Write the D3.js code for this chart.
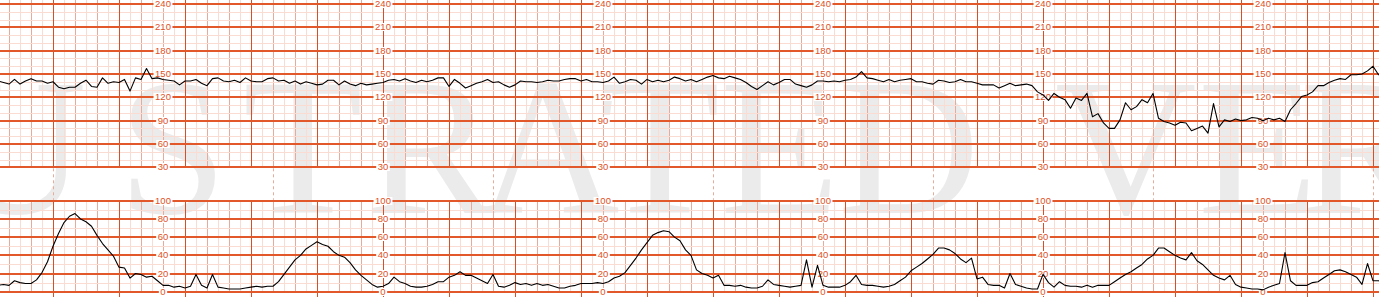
<!DOCTYPE html>
<html>
<head>
<meta charset="utf-8">
<script src="https://cdn.jsdelivr.net/npm/d3@7"></script>
<style>
  body { margin: 0; background: #fff; overflow: hidden; }
  svg { display: block; }
</style>
</head>
<body>
<div id="viz"></div>
<script>
// tick labels
const fhrTicks = [240, 210, 180, 150, 120, 90, 60, 30];
const uaTicks = [100, 80, 60, 40, 20, 0];
const labelSeconds = [160, 360, 560, 760, 960, 1160]; // label columns
const gapMarkSeconds = [60, 260, 460, 660, 860, 1060, 1260]; // dashed marks between panels
const watermark = 'ILLUSTRATED VERSION';

// traces, one value every 5 s starting at t = 10 s
const startSec = 10, stepSec = 5;
const fhrValues = [
  141,139,137,143,137,141,144,141,141,138,
  140,133,131,133,133,138,142,134,133,145,
  138,140,139,143,128,145,143,157,144,145,
  143,142,141,136,141,141,143,138,135,144,
  145,141,140,142,139,145,141,140,140,144,
  145,141,142,138,141,137,140,138,136,137,
  142,142,136,141,137,135,138,136,137,138,
  139,142,143,141,144,141,139,142,140,142,
  145,145,134,143,138,
  132,135,138,140,143,139,140,136,133,136,
  141,140,140,139,140,142,141,141,143,144,
  144,141,143,140,140,139,141,146,138,140,
  143,142,137,143,140,142,140,142,146,144,
  141,143,140,143,146,148,145,144,147,145,
  143,139,134,130,135,140,136,139,143,143,
  137,135,133,136,141,141,140,141,140,142,
  143,146,153,145,144,142,140,143,140,142,
  143,144,140,140,138,137,142,141,139,140,
  143,140,140,138,136,136,136,132,135,138,
  135,
  136,137,135,127,123,116,125,120,117,106,
  119,116,125,95,99,87,80,80,91,113,
  104,108,117,113,125,93,89,87,84,88,
  87,77,80,83,74,112,82,91,89,92,
  90,91,94,93,90,93,91,93,89,104,
  112,121,123,127,135,135,139,142,144,143,
  149,149,150,154,160,149,151
];
const uaValues = [
  7,8,7,12,10,9,9,13,21,33,
  50,64,76,83,86,80,77,72,62,53,
  46,39,27,26,15,20,19,16,17,12,
  7,7,5,6,4,6,19,7,4,19,
  5,4,3,3,3,4,5,6,5,6,
  6,11,19,27,35,40,47,51,55,52,
  50,44,40,38,32,24,18,13,8,5,
  6,9,16,11,9,6,5,5,6,8,
  11,11,16,18,22,
  18,18,15,12,9,19,6,5,7,10,
  8,9,7,9,7,8,6,4,4,6,
  7,9,9,9,10,9,11,15,17,21,
  29,37,46,54,62,65,67,66,60,56,
  46,40,24,20,18,15,18,7,7,6,
  7,5,4,4,6,13,8,7,6,5,
  6,7,35,5,29,7,5,5,5,7,
  11,18,8,7,7,6,5,6,8,12,
  16,23,27,31,36,41,48,48,46,42,
  36,32,37,14,16,8,7,7,4,20,
  8,6,4,3,3,19,10,5,11,7,
  6,6,5,7,5,7,7,7,11,15,
  19,22,26,30,36,40,48,48,44,40,
  37,35,43,34,30,24,18,15,13,18,
  8,5,4,3,3,2,5,7,9,43,
  12,7,7,7,10,11,15,19,23,24,
  22,19,16,8,31,12,12,11
];

const width = 1379, height = 297;
const colMinor = '#fbdcd3', colMedium = '#e8aa9a', colMajorV = '#d4502a',
  colMajorH = '#e2582a', colLabel = '#e0501e';

// scales: 66 px per minute, time 0 just left of the page
const x = d3.scaleLinear().domain([0, 60]).range([-13, 53]);
const yFhr = d3.scaleLinear().domain([30, 240]).range([167.3, 4]);
const yUa = d3.scaleLinear().domain([0, 100]).range([291.7, 200.8]);
const tMax = x.invert(width + 2);

const svg = d3.select('#viz').append('svg')
  .attr('width', width)
  .attr('height', height);

// watermark, glyphs placed one by one across the strip
const glyphX = [-370, -300, -180, -55, 118, 243, 365, 478, 600, 720, 838, 985,
  1055, 1198, 1300, 1430, 1530, 1580, 1720];
svg.append('text')
  .attr('x', glyphX.join(' '))
  .attr('y', 213)
  .attr('font-family', '"Liberation Serif", "DejaVu Serif", serif')
  .attr('font-size', 196)
  .attr('fill', '#ebebeb')
  .text(watermark);

const crisp = v => Math.round(v) + 0.5;
const gridTimes = d3.range(0, tMax, 10);
const panels = [
  { y: yFhr, lines: d3.range(30, 241, 10), major: v => v % 30 === 0, top: 0, bottom: yFhr(30) },
  { y: yUa, lines: d3.range(0, 101, 10), major: v => v % 20 === 0, top: yUa(100), bottom: yUa(0) }
];

panels.forEach((p, pi) => {
  const g = svg.append('g');
  // minor + medium verticals
  g.selectAll('line.v').data(gridTimes.filter(t => t % 60 !== 0))
    .enter().append('line')
      .attr('x1', t => crisp(x(t))).attr('x2', t => crisp(x(t)))
      .attr('y1', p.top).attr('y2', p.bottom)
      .attr('stroke', t => t % 20 === 0 ? colMedium : colMinor);
  // minor horizontals
  g.selectAll('line.h').data(p.lines.filter(v => !p.major(v)))
    .enter().append('line')
      .attr('x1', 0).attr('x2', width)
      .attr('y1', v => crisp(p.y(v))).attr('y2', v => crisp(p.y(v)))
      .attr('stroke', colMinor);
  // major verticals (UA majors run to the page bottom)
  g.selectAll('line.mv').data(gridTimes.filter(t => t % 60 === 0))
    .enter().append('line')
      .attr('x1', t => crisp(x(t))).attr('x2', t => crisp(x(t)))
      .attr('y1', p.top).attr('y2', pi === 1 ? height : p.bottom)
      .attr('stroke', colMajorV);
  // major horizontals
  g.selectAll('line.mh').data(p.lines.filter(p.major))
    .enter().append('line')
      .attr('x1', 0).attr('x2', width)
      .attr('y1', v => Math.round(p.y(v))).attr('y2', v => Math.round(p.y(v)))
      .attr('stroke', colMajorH)
      .attr('stroke-width', 2);
});

// dashed marks in the gap
svg.selectAll('line.gap').data(gapMarkSeconds)
  .enter().append('line')
    .attr('x1', t => crisp(x(t))).attr('x2', t => crisp(x(t)))
    .attr('y1', yFhr(30) + 1).attr('y2', yUa(100) - 1)
    .attr('stroke', colMedium)
    .attr('stroke-dasharray', '3,3');

// axis labels with white boxes
function addLabels(ticks, yScale) {
  labelSeconds.forEach(t => {
    const g = svg.append('g');
    ticks.forEach(v => {
      const cx = x(t), cy = Math.round(yScale(v));
      const w = String(v).length * 5.3 + 3;
      g.append('rect')
        .attr('x', cx - w / 2).attr('y', cy - 4)
        .attr('width', w).attr('height', 8)
        .attr('fill', '#fff');
      g.append('text')
        .attr('x', cx).attr('y', cy + 3.4)
        .attr('text-anchor', 'middle')
        .attr('font-family', '"Liberation Sans", Arial, sans-serif')
        .attr('font-size', 9.5)
        .attr('fill', colLabel)
        .text(v);
    });
  });
}
addLabels(fhrTicks, yFhr);
addLabels(uaTicks, yUa);

// traces
const fhrLine = d3.line()
  .x((d, i) => x(startSec + i * stepSec))
  .y(d => yFhr(d));
const uaLine = d3.line()
  .x((d, i) => x(startSec + i * stepSec))
  .y(d => yUa(d));

svg.append('path')
  .datum(fhrValues)
  .attr('d', fhrLine)
  .attr('fill', 'none')
  .attr('stroke', '#000')
  .attr('stroke-width', 1.1)
  .attr('stroke-linejoin', 'round');

svg.append('path')
  .datum(uaValues)
  .attr('d', uaLine)
  .attr('fill', 'none')
  .attr('stroke', '#000')
  .attr('stroke-width', 1.1)
  .attr('stroke-linejoin', 'round');
</script>
</body>
</html>
